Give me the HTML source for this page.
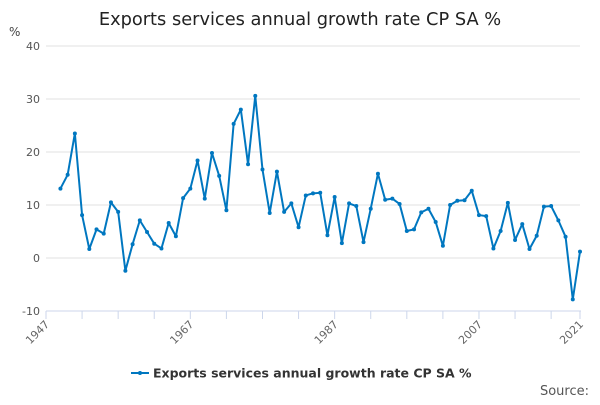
<!DOCTYPE html>
<html><head><meta charset="utf-8">
<style>
body{margin:0;background:#fff;font-family:"Liberation Sans","DejaVu Sans",sans-serif}
svg text{font-family:"DejaVu Sans","Liberation Sans",sans-serif}
</style></head>
<body>
<svg id="c" width="600" height="400" viewBox="0 0 600 400">
<text x="300" y="25" text-anchor="middle" font-size="17.8" fill="#222">Exports services annual growth rate CP SA %</text>
<text x="9" y="36" font-size="12" fill="#444">%</text>
<g id="grid"></g><g id="xax"></g><g id="series"></g>
<g>
<line x1="131" y1="373" x2="149" y2="373" stroke="#0077c0" stroke-width="2"/>
<circle cx="140" cy="373" r="2" fill="#0077c0"/>
<text x="153" y="377.5" font-size="12.5" font-weight="bold" fill="#333">Exports services annual growth rate CP SA %</text>
</g>
<text x="589" y="395" text-anchor="end" font-size="13" fill="#555">Source:</text>
</svg>
<script>
const years=[1949,1950,1951,1952,1953,1954,1955,1956,1957,1958,1959,1960,1961,1962,1963,1964,1965,1966,1967,1968,1969,1970,1971,1972,1973,1974,1975,1976,1977,1978,1979,1980,1981,1982,1983,1984,1985,1986,1987,1988,1989,1990,1991,1992,1993,1994,1995,1996,1997,1998,1999,2000,2001,2002,2003,2004,2005,2006,2007,2008,2009,2010,2011,2012,2013,2014,2015,2016,2017,2018,2019,2020,2021];
const values=[13.1,15.7,23.5,8.1,1.7,5.4,4.6,10.5,8.7,-2.4,2.6,7.1,4.9,2.7,1.8,6.6,4.1,11.3,13.1,18.4,11.2,19.8,15.5,9.0,25.3,28.0,17.7,30.6,16.7,8.5,16.3,8.7,10.3,5.8,11.8,12.2,12.3,4.3,11.5,2.8,10.3,9.8,3.0,9.3,15.9,11.0,11.2,10.2,5.1,5.4,8.6,9.3,6.8,2.3,10.0,10.8,10.9,12.7,8.1,7.9,1.8,5.1,10.4,3.4,6.4,1.7,4.2,9.7,9.8,7.1,4.0,-7.8,1.2];
const yTicks=[40,30,20,10,0,-10];
const xLabels=[1947,1967,1987,2007,2021];
const NS='http://www.w3.org/2000/svg';
const X0=46,X1=580,Y40=46,Ym10=311;
const xs=y=>X0+(y-1947)*(X1-X0)/(2021-1947);
const ys=v=>Y40+(40-v)*(Ym10-Y40)/50;
function mk(t,a,p){const e=document.createElementNS(NS,t);for(const k in a)e.setAttribute(k,a[k]);p.appendChild(e);return e;}
const grid=document.getElementById('grid');
yTicks.forEach(v=>{
 const l=mk('line',{x1:X0,x2:X1,y1:ys(v),y2:ys(v),stroke:'#e0e0e0','stroke-width':1},grid);
 
 
 const t=mk('text',{x:40,y:ys(v)+4,'text-anchor':'end','font-size':11,fill:'#555'},grid);
 t.textContent=v;
 
 
});
const xax=document.getElementById('xax');
const ax=mk('line',{x1:X0,x2:X1+1,y1:ys(-10),y2:ys(-10),stroke:'#ccd6eb'},xax);


for(let y=1947;y<=2017;y+=5){
 const tk=mk('line',{x1:xs(y),x2:xs(y),y1:ys(-10),y2:ys(-10)+8,stroke:'#ccd6eb'},xax);
 
 
}
mk('line',{x1:xs(2021),x2:xs(2021),y1:ys(-10),y2:ys(-10)+8,stroke:'#ccd6eb'},xax);
xLabels.forEach(y=>{
 const x=xs(y)+4,yy=ys(-10)+14;
 const t=mk('text',{x:x,y:yy,'text-anchor':'end','font-size':11,fill:'#666',transform:`rotate(-45 ${x} ${yy})`},xax);
 t.textContent=y;
 
 
});
const g=document.getElementById('series');
const pts=years.map((y,i)=>xs(y)+','+ys(values[i])).join(' ');
const pl=mk('polyline',{points:pts,fill:'none',stroke:'#0077c0','stroke-width':2,'stroke-linejoin':'round'},g);


years.forEach((y,i)=>{
 const c=mk('circle',{cx:xs(y),cy:ys(values[i]),r:2,fill:'#0077c0'},g);
 
 
});
</script>
</body></html>
